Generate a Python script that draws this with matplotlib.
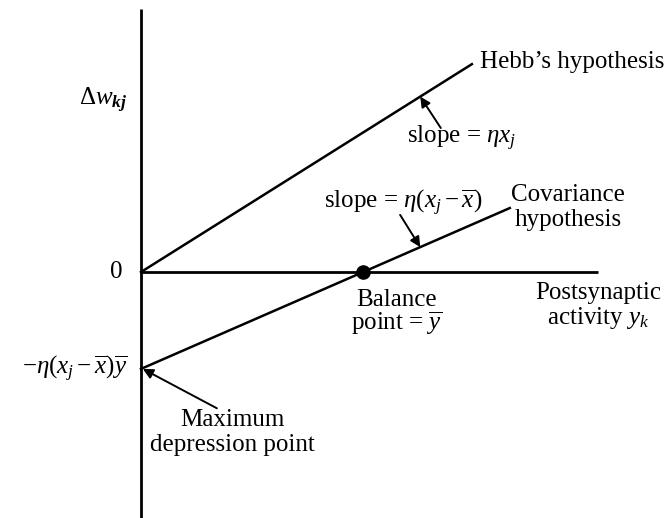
import numpy as np
import matplotlib
matplotlib.use("Agg")
import matplotlib.pyplot as plt

# Serif text with matching mathtext glyphs
plt.rcParams["font.family"] = ["Liberation Serif", "DejaVu Serif"]
plt.rcParams["mathtext.fontset"] = "custom"
plt.rcParams["mathtext.rm"] = "Liberation Serif"
plt.rcParams["mathtext.it"] = "Liberation Serif:italic"
plt.rcParams["mathtext.bf"] = "Liberation Serif:bold:italic"

# Postsynaptic activity y_k (horizontal axis runs 0..1)
axis_end = 1.0
y_bar = 0.486            # balance point
hebb_slope = 0.628       # eta * x_j
cov_slope = 0.436        # eta * (x_j - x_bar)
hebb_x = np.array([0.0, 0.724])
cov_x = np.array([0.0, 0.807])
hebb_y = hebb_slope * hebb_x
cov_y = cov_slope * (cov_x - y_bar)
max_depression = -cov_slope * y_bar

FS = 18

fig = plt.figure(figsize=(6.71, 5.18), dpi=100)
ax = fig.add_axes([0, 0, 1, 1])
ax.set_xlim(-0.3085, 1.1597)
ax.set_ylim(-0.538, 0.595)
ax.axis("off")

# axes
ax.plot([0, 0], [-0.6, 0.575], color="black", lw=2.0, solid_capstyle="butt")
ax.plot([0, axis_end], [0, 0], color="black", lw=2.0, solid_capstyle="butt")

# hypothesis lines
ax.plot(hebb_x, hebb_y, color="black", lw=1.8)
ax.plot(cov_x, cov_y, color="black", lw=1.8)
ax.plot([y_bar], [0], "o", color="black", ms=9.5)

arrow = dict(arrowstyle="-|>", color="black", lw=1.4, mutation_scale=15,
             shrinkA=0, shrinkB=0)


def label(x, y, s, ha="center"):
    ax.text(x, y, s, fontsize=FS, ha=ha, va="center")


label(-0.03, 0.376, r"$\Delta w_{\mathbf{kj}}$", ha="right")
label(-0.04, 0.0, "0", ha="right")
label(-0.03, max_depression, r"$-\eta(x_j-\overline{x})\overline{y}$", ha="right")

label(hebb_x[1] + 0.018, hebb_y[1] + 0.004, "Hebb\u2019s hypothesis", ha="left")
ax.annotate("", xy=(0.611, hebb_slope * 0.611), xytext=(0.656, 0.315),
            arrowprops=arrow)
label(0.702, 0.293, r"slope = $\eta x_j$")

ax.annotate("", xy=(0.611, cov_slope * (0.611 - y_bar)), xytext=(0.567, 0.125),
            arrowprops=arrow)
label(0.573, 0.151, r"slope = $\eta(x_j-\overline{x})$")
label(0.934, 0.168, "Covariance")
label(0.934, 0.114, "hypothesis")

label(0.560, -0.061, "Balance")
label(0.560, -0.112, r"point = $\overline{y}$")
label(1.0, -0.046, "Postsynaptic")
label(1.0, -0.101, r"activity $y_k$")

ax.annotate("", xy=(0.004, max_depression), xytext=(0.166, -0.298),
            arrowprops=arrow)
label(0.199, -0.324, "Maximum")
label(0.199, -0.379, "depression point")

fig.savefig("out.png", dpi=100, facecolor="white")
